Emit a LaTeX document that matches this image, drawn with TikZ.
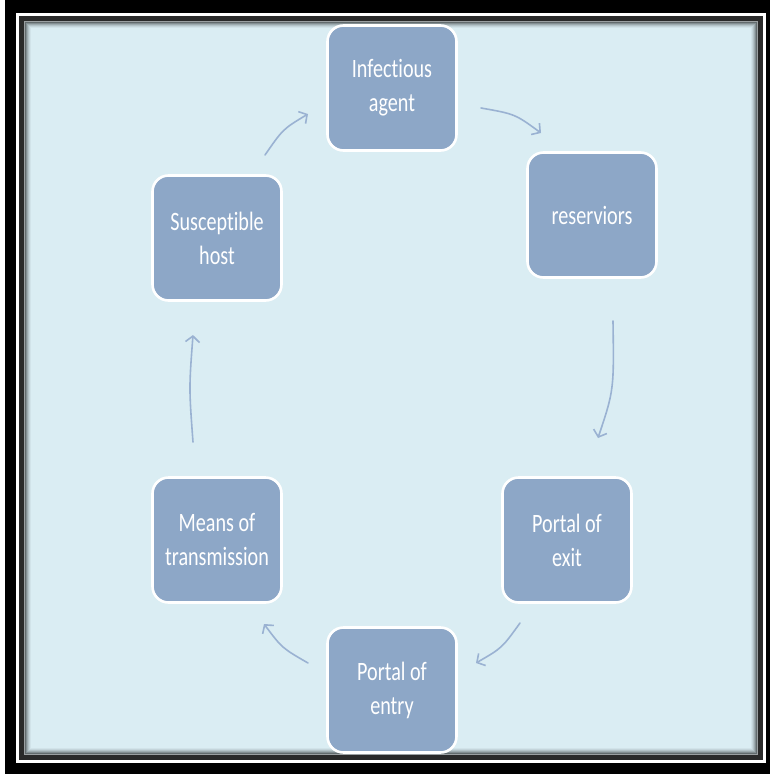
\documentclass[tikz,border=0pt]{standalone}
\usepackage{fontspec}
\setmainfont{Carlito}
\newfontfamily\boxfont[FakeStretch=0.76,Ligatures=NoCommon]{Carlito}
\usetikzlibrary{arrows.meta}
\definecolor{bgblue}{HTML}{DAEDF3}
\definecolor{boxfill}{HTML}{8DA7C7}
\definecolor{arrcol}{HTML}{9AB2D2}
\definecolor{framedark}{HTML}{2A2A2A}
\tikzset{
  stagebox/.style={draw=white, line width=2.6pt, fill=boxfill, rounded corners=16pt,
    minimum width=129pt, minimum height=125pt, align=center, text=white,
    font=\boxfont\fontsize{26.5}{34}\selectfont, inner sep=0pt},
  cyclearrow/.style={draw=arrcol, line width=1.6pt, line cap=round,
    -{Straight Barb[length=6pt,width=14pt,line width=1.6pt]}}
}
\begin{document}
\begin{tikzpicture}[x=1pt,y=-1pt]
\useasboundingbox (0,0) rectangle (770,774);
% frame
\fill[white] (0,0) rectangle (770,774);
\fill[black] (5,0) rectangle (770,774);
\fill[white] (16,13) rectangle (766,763);
\fill[framedark] (19,16) rectangle (763,760);
\fill[gray!70!bgblue] (24,21) rectangle (758,755);
\foreach \i/\c in {1/55,2/40,3/28,4/18,5/10,6/4}{
  \fill[black!\c!bgblue] (24+\i,21+\i) rectangle (758-\i,755-\i);
}
\fill[bgblue] (31,28) rectangle (751,748);
% nodes
\node[stagebox] (ia) at (392,88) {Infectious\\agent};
\node[stagebox] (res) at (592,215) {reserviors};
\node[stagebox] (exit) at (567,540) {Portal of\\exit};
\node[stagebox] (entry) at (392,690) {Portal of\\entry};
\node[stagebox] (means) at (217,540) {Means of\\transmission};
\node[stagebox] (host) at (217,238) {Susceptible\\host};
% arrow end points
\coordinate (a1s) at (481,108); \coordinate (a1e) at (541,133);
\coordinate (a2s) at (613,321); \coordinate (a2e) at (598,438);
\coordinate (a3s) at (520,623); \coordinate (a3e) at (476,663);
\coordinate (a4s) at (308,663); \coordinate (a4e) at (264,624);
\coordinate (a5s) at (193,442); \coordinate (a5e) at (193,335);
\coordinate (a6s) at (265,155); \coordinate (a6e) at (308,114);
\draw[cyclearrow] (a1s) .. controls (515,114) .. (a1e);
\draw[cyclearrow] (a2s) .. controls (614,390) .. (a2e);
\draw[cyclearrow] (a3s) .. controls (502,648) .. (a3e);
\draw[cyclearrow] (a4s) .. controls (282,648) .. (a4e);
\draw[cyclearrow] (a5s) .. controls (189,388) .. (a5e);
\draw[cyclearrow] (a6s) .. controls (283,129) .. (a6e);
\end{tikzpicture}
\end{document}
